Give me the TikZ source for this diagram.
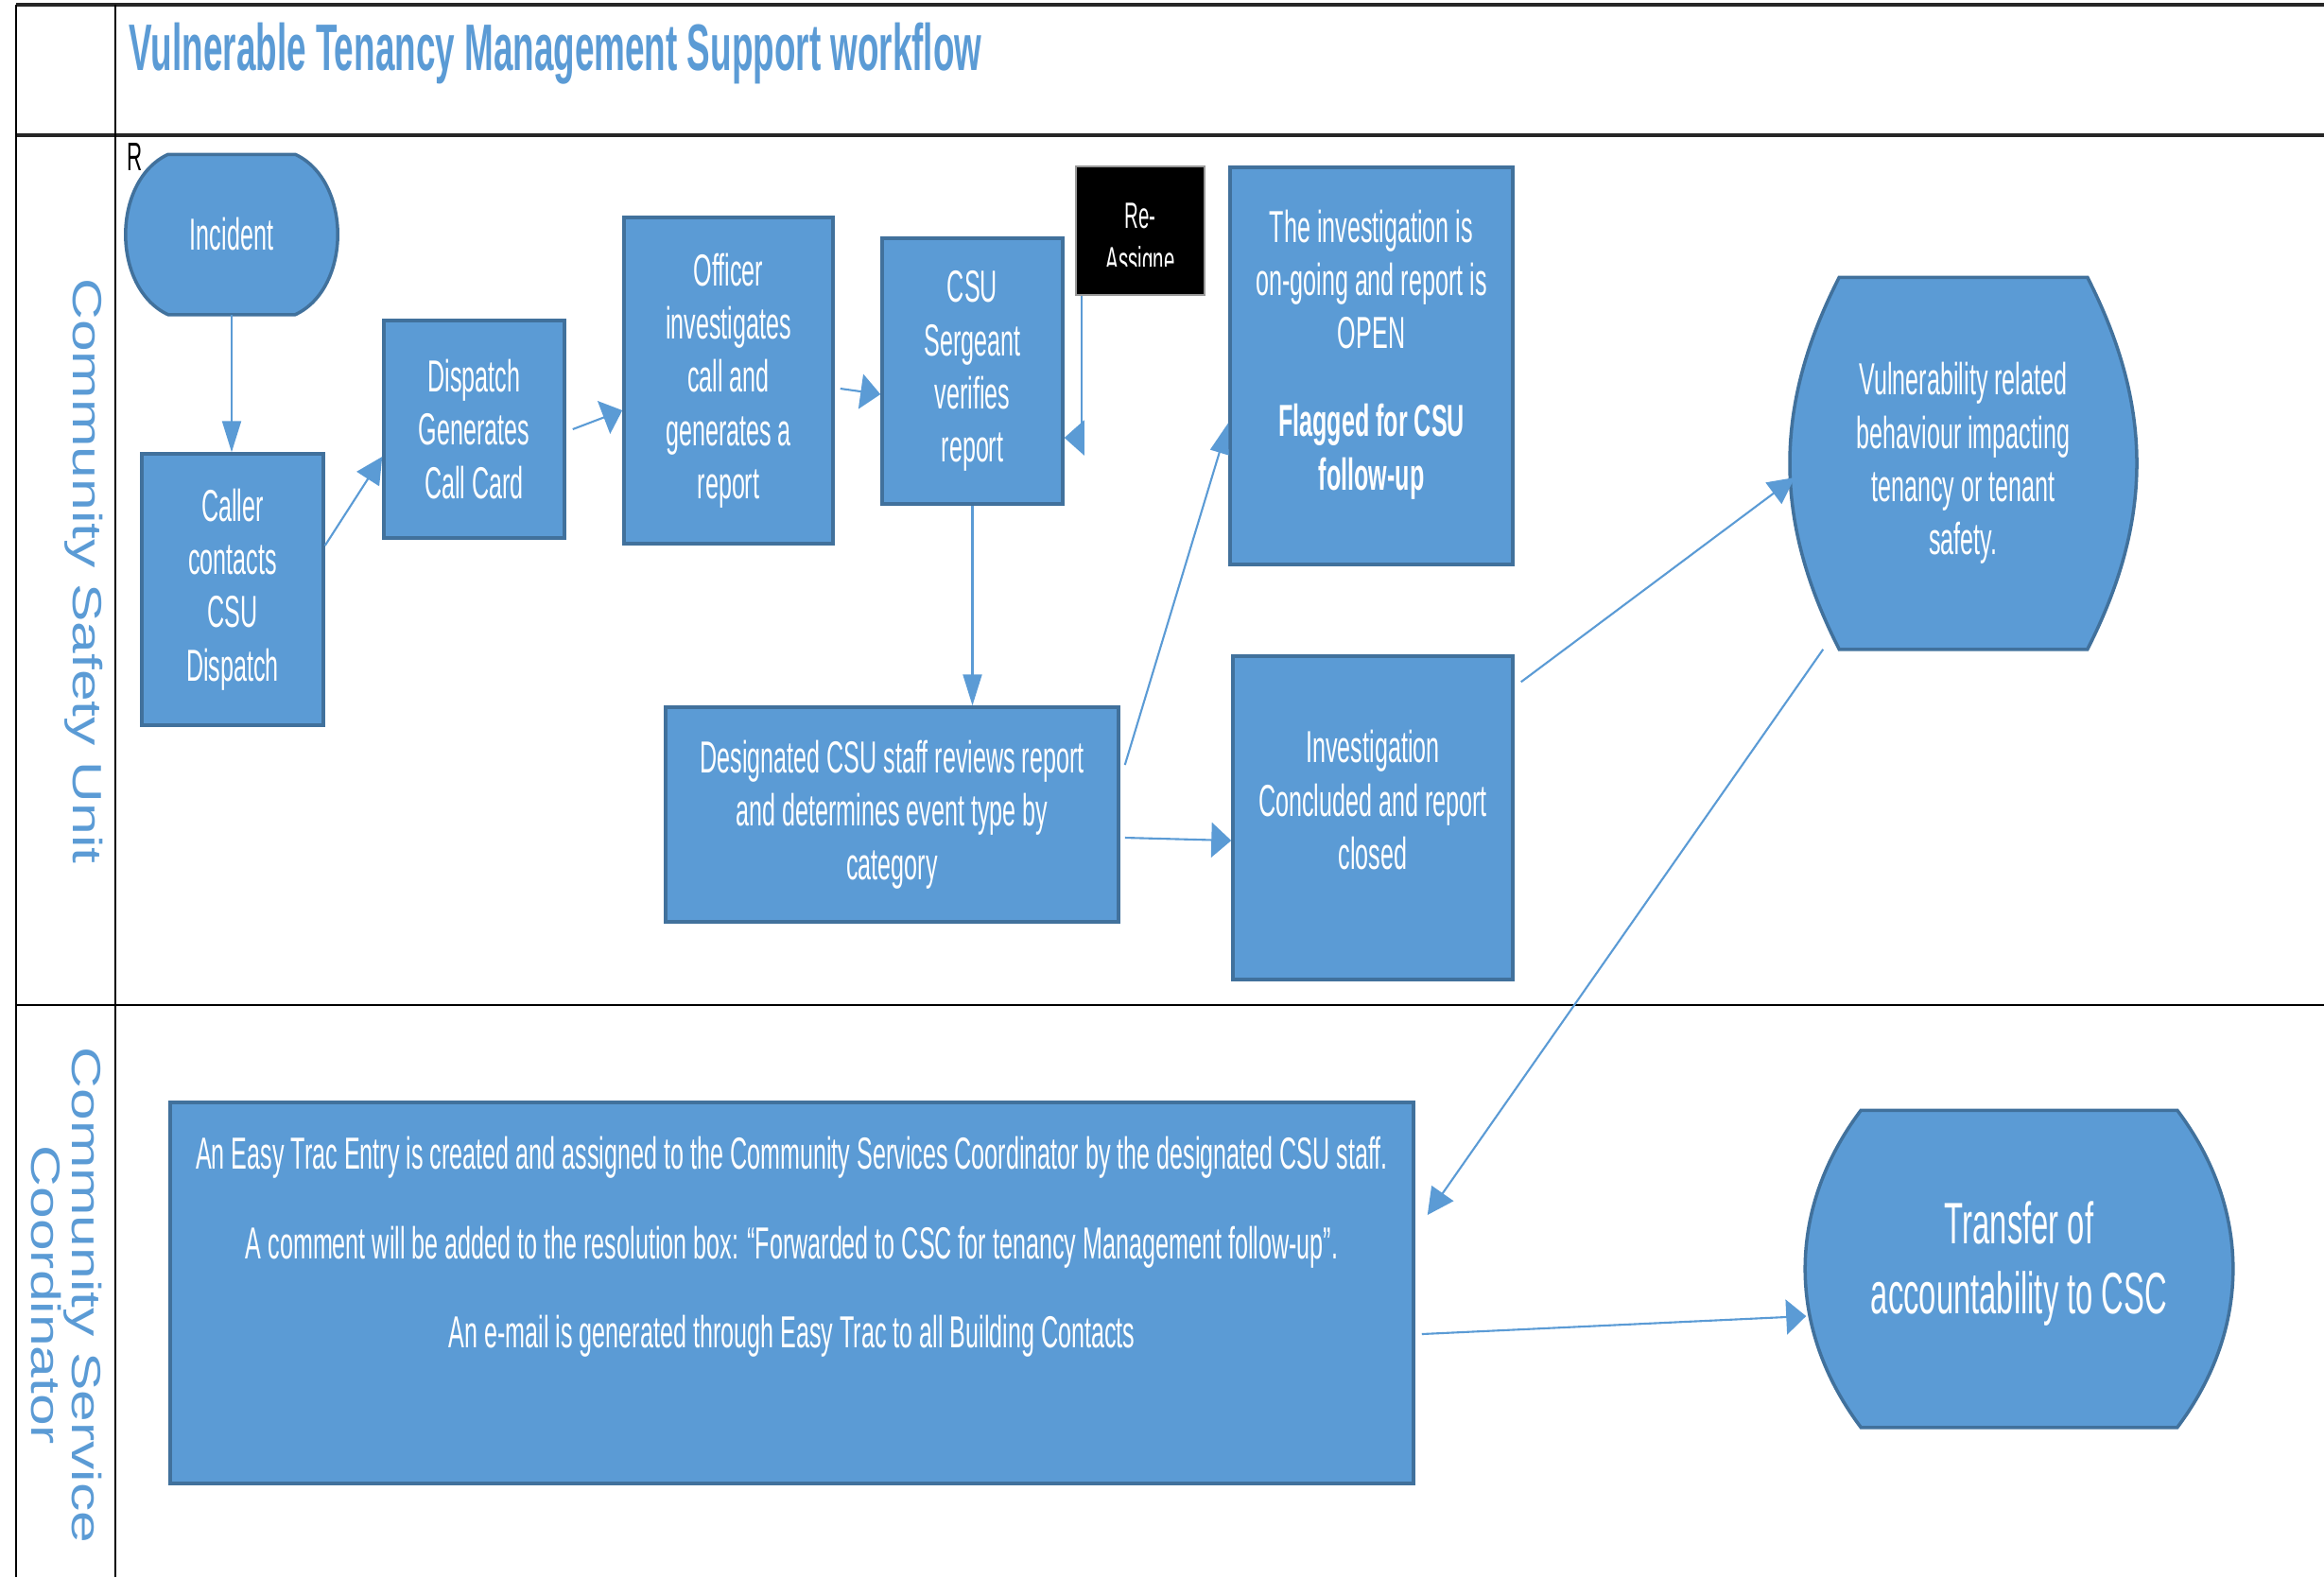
\documentclass[tikz,border=0pt]{standalone}
\usepackage{fontspec}
\setmainfont{Liberation Sans}
\newfontfamily\narrowfont[FakeStretch=0.53]{Liberation Sans}
\newfontfamily\lanefont[FakeStretch=1.4]{Liberation Sans}
\usepackage{tikz}
\usetikzlibrary{arrows.meta,positioning,calc,backgrounds}
\definecolor{boxblue}{HTML}{5B9BD5}
\definecolor{boxedge}{HTML}{41719C}
\definecolor{titleblue}{HTML}{5B9BD5}

\begin{document}
\begin{tikzpicture}[x=1mm, y=1mm,
  box/.style={draw=boxedge, line width=1pt, fill=boxblue, text=white, align=center, inner sep=0pt, font=\narrowfont\fontsize{13.5}{16}\selectfont},
  terminal/.style={box, draw=none, fill=none},
  termshape/.style={draw=boxedge, line width=1pt, fill=boxblue},
  blackbox/.style={draw=black!40, line width=0.4pt, fill=black, minimum width=13.6mm, minimum height=13.6mm},
  lane/.style={text=titleblue, align=center, rotate=-90, inner sep=0pt, font=\lanefont\fontsize{12.3}{10.7}\selectfont},
  arrow/.style={-{Triangle[length=2.1mm, width=3.7mm]}, line width=0.6pt, draw=boxblue},
  varrow/.style={arrow, -{Triangle[length=3.3mm, width=2mm]}},
  darrow/.style={arrow, -{Triangle[length=2.8mm, width=2.8mm]}},
  frame/.style={line width=0.5pt, draw=black},
  thickframe/.style={line width=0.9pt, draw=black!85}
]
\useasboundingbox (0,0) rectangle (245.8,-166.8);

% swimlanes
\draw[thickframe] (1.7,-0.5) -- (245.8,-0.5);
\draw[thickframe] (1.7,-14.3) -- (245.8,-14.3);
\draw[frame] (1.7,-106.3) -- (245.8,-106.3);
\draw[frame] (1.7,-0.5) -- (1.7,-166.8);
\draw[frame] (12.2,-0.5) -- (12.2,-166.8);

\node[anchor=base west, text=titleblue, inner sep=0pt, font=\narrowfont\bfseries\fontsize{19.8}{22}\selectfont] (title) at (13.6,-7.4) {Vulnerable Tenancy Management Support workflow};
\node[inner sep=0pt, font=\narrowfont\fontsize{12}{13}\selectfont] (rmark) at (14.3,-16.6) {R};

\node[lane] (csu) at (8.9,-60.4) {Community Safety Unit};
\node[lane] (csc) at (7.05,-137) {Community Service\\Coordinator};

% CSU lane
\node[terminal, minimum width=22.1mm, minimum height=16.6mm] (incident) at (24.5,-24.8) {Incident};
\node[box, minimum width=19.2mm, minimum height=28.7mm] (caller) at (24.6,-62.35) {Caller\\contacts\\CSU\\Dispatch};
\node[box, minimum width=19.1mm, minimum height=23mm] (dispatch) at (50.15,-45.4) {Dispatch\\Generates\\Call Card};
\node[box, minimum width=22.1mm, minimum height=34.5mm] (officer) at (77.05,-40.25) {Officer\\investigates\\call and\\generates a\\report};
\node[box, minimum width=19.1mm, minimum height=28.1mm] (sergeant) at (102.85,-39.25) {CSU\\Sergeant\\verifies\\report};
\node[blackbox] (reassign) at (120.6,-24.4) {};
\begin{scope}
  \clip (reassign.north west) rectangle ([yshift=3.1mm]reassign.south east);
  \node[text=white, align=center, font=\narrowfont\fontsize{11}{13.4}\selectfont] (reassigntext) at (120.6,-25.6) {Re-\\Assigne};
\end{scope}
\node[box, minimum width=29.9mm, minimum height=42mm] (open) at (145.05,-38.7) {The investigation is\\on-going and report is\\OPEN\\[3.7mm]\textbf{Flagged for CSU}\\\textbf{follow-up}\\[-2.2mm]\mbox{}};
\node[terminal, minimum width=35.3mm, minimum height=39mm] (vuln) at (207.65,-49) {Vulnerability related\\behaviour impacting\\tenancy or tenant\\safety.};
\node[box, minimum width=47.9mm, minimum height=22.7mm] (designated) at (94.35,-86.15) {Designated CSU staff reviews report\\and determines event type by\\category};
\node[box, minimum width=29.6mm, minimum height=34.2mm] (concluded) at (145.2,-86.5) {Investigation\\Concluded and report\\closed\\[-1.8mm]\mbox{}};

% CSC lane
\node[box, minimum width=131.5mm, minimum height=40.3mm] (easytrac) at (83.75,-136.75) {An Easy Trac Entry is created and assigned to the Community Services Coordinator by the designated CSU staff.\\[3.8mm]A comment will be added to the resolution box: “Forwarded to CSC for tenancy Management follow-up”.\\[3.8mm]An e-mail is generated through Easy Trac to all Building Contacts\\[5.1mm]\mbox{}};
\node[terminal, minimum width=44.7mm, minimum height=33.2mm, font=\narrowfont\fontsize{17.6}{21}\selectfont] (transfer) at (213.55,-134.2) {Transfer of\\accountability to CSC\\[-5mm]\mbox{}};

% terminal outlines
\begin{scope}[on background layer]
\foreach \n/\e/\b in {incident/4.5/65, vuln/4.7/27, transfer/5.8/37}
  \draw[termshape] ([xshift=\e mm]\n.north west) -- ([xshift=-\e mm]\n.north east)
    to[bend left=\b] ([xshift=-\e mm]\n.south east) -- ([xshift=\e mm]\n.south west)
    to[bend left=\b] ([xshift=\e mm]\n.north west) -- cycle;
\end{scope}

\draw[varrow] (incident.south) -- (incident.south |- caller.north);
\draw[darrow] ([yshift=4.65mm]caller.east) -- ([yshift=-2.9mm]dispatch.west);
\draw[arrow] ([xshift=0.7mm]dispatch.east) -- ([yshift=-3.15mm]officer.west);
\draw[arrow] ([xshift=0.6mm,yshift=-0.85mm]officer.east) -- ([yshift=-2.45mm]sergeant.west);
\draw[arrow] ([xshift=0.7mm]reassign.south west) |- ([yshift=-7.05mm]sergeant.east);
\draw[varrow] (sergeant.south) -- (sergeant.south |- designated.north);
\draw[varrow] ([xshift=0.5mm,yshift=5.25mm]designated.east) -- ([yshift=-6mm]open.west);
\draw[arrow] ([xshift=0.5mm,yshift=-2.45mm]designated.east) -- ([yshift=-2.4mm]concluded.west);
\draw[darrow] ([xshift=0.7mm,yshift=-2.9mm]concluded.north east) -- ([yshift=-1.5mm]vuln.west);
\draw[darrow] (vuln.233) -- ([xshift=1.3mm,yshift=8.25mm]easytrac.east);
\draw[arrow] ([xshift=0.7mm,yshift=-4.35mm]easytrac.east) -- ([yshift=-5mm]transfer.west);
\end{tikzpicture}
\end{document}
